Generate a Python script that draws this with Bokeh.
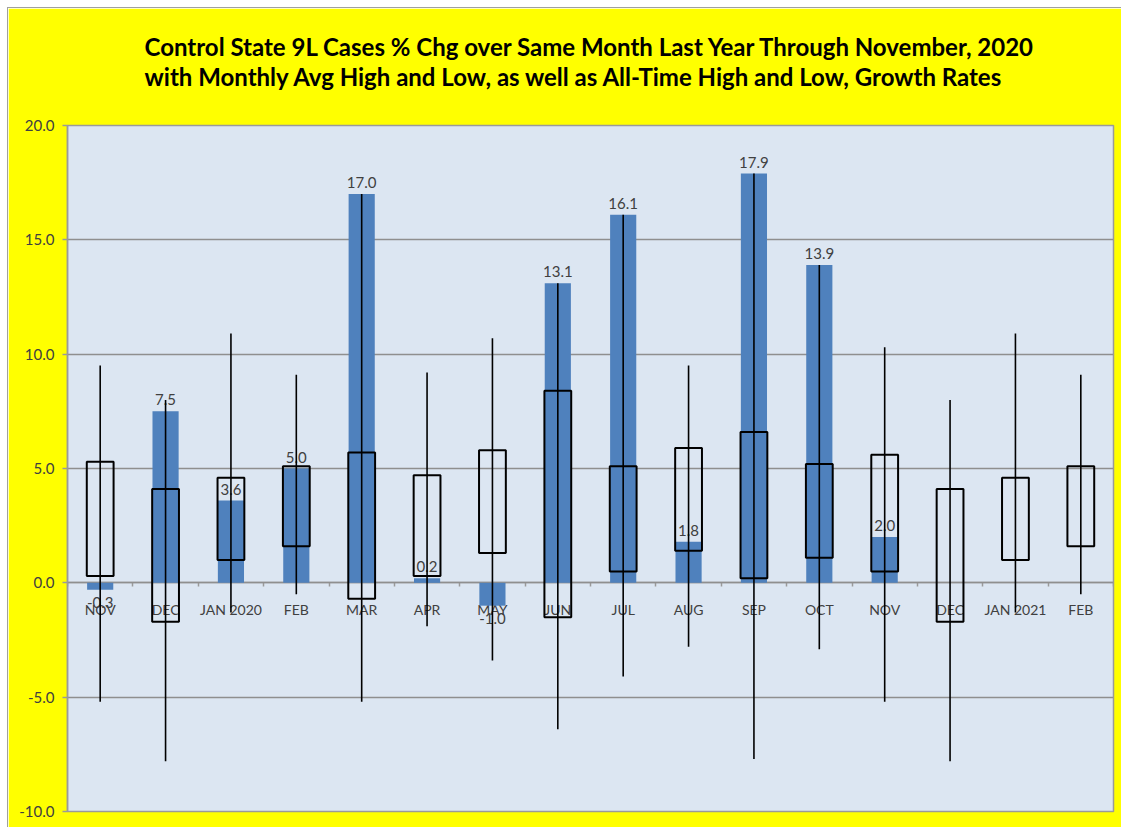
from bokeh.plotting import figure
from bokeh.models import Range1d, FixedTicker, Title, ColumnDataSource, LinearAxis, NumeralTickFormatter
from bokeh.core.properties import value
from bokeh.embed import file_html
from bokeh.resources import INLINE

months = ["NOV", "DEC", "JAN 2020", "FEB", "MAR", "APR", "MAY", "JUN",
          "JUL", "AUG", "SEP", "OCT", "NOV", "DEC", "JAN 2021", "FEB"]
actual = [-0.3, 7.5, 3.6, 5.0, 17.0, 0.2, -1.0, 13.1, 16.1, 1.8, 17.9, 13.9, 2.0]
avg_high = [5.3, 4.1, 4.6, 5.1, 5.7, 4.7, 5.8, 8.4, 5.1, 5.9, 6.6, 5.2, 5.6, 4.1, 4.6, 5.1]
avg_low = [0.3, -1.7, 1.0, 1.6, -0.7, 0.3, 1.3, -1.5, 0.5, 1.4, 0.2, 1.1, 0.5, -1.7, 1.0, 1.6]
all_high = [9.5, 8.0, 10.9, 9.1, 17.0, 9.2, 10.7, 13.1, 16.1, 9.5, 17.9, 13.9, 10.3, 8.0, 10.9, 9.1]
all_low = [-5.2, -7.8, -1.3, -0.5, -5.2, -1.9, -3.4, -6.4, -4.1, -2.8, -7.7, -2.9, -5.2, -7.8, -1.3, -0.5]
y_ticks = [-10, -5, 0, 5, 10, 15, 20]
title_lines = ["Control State 9L Cases % Chg over Same Month Last Year Through November, 2020",
               "with Monthly Avg High and Low, as well as All-Time High and Low,  Growth Rates"]

FONT = "Lato"
YELLOW = "#FFFF00"

idx = list(range(len(months)))
bar_src = ColumnDataSource(dict(x=idx[:len(actual)], top=actual))
pos = dict(x=[], y=[], lab=[])
neg = dict(x=[], y=[], lab=[])
for i, v in enumerate(actual):
    d = pos if v >= 0 else neg
    d["x"].append(i)
    d["y"].append(v)
    d["lab"].append("%.1f" % v)

p = figure(frame_width=1046, frame_height=686,
           min_border_left=59, min_border_right=8, min_border_top=117, min_border_bottom=16,
           x_range=Range1d(-0.5, len(months) - 0.5), y_range=Range1d(-10, 20),
           output_backend="svg", toolbar_location=None,
           x_axis_location=None, y_axis_location=None,
           background_fill_color="#DCE6F2", border_fill_color=YELLOW,
           outline_line_color="#9a9a9a", outline_line_width=1.5)
p.styles = {"margin-left": "8px", "margin-top": "8px", "outline": "1px solid #a0a0a0"}

# spacer between plot area and title, then the two-line title
spacer = Title(text=" ", text_font_size="2px", standoff=12)
p.add_layout(spacer, "above")
t = Title(text="\n".join(title_lines), align="center", text_font=FONT, text_font_size="24px",
          text_font_style="bold", text_color="#000000", standoff=37, text_line_height=1.05)
p.add_layout(t, "above")

# y axis
yax = LinearAxis(ticker=FixedTicker(ticks=y_ticks, minor_ticks=[]))
yax.formatter = NumeralTickFormatter(format="0.0")
yax.major_label_text_font = FONT
yax.major_label_text_font_size = "15px"
yax.major_label_text_color = "#404040"
yax.major_tick_out = 5
yax.major_tick_in = 0
yax.major_tick_line_color = "#9a9a9a"
yax.major_tick_line_width = 1.5
yax.axis_line_color = "#9a9a9a"
yax.axis_line_width = 1.5
yax.major_label_standoff = 8
p.add_layout(yax, "left")

# x axis crossing at zero
xax = LinearAxis(ticker=FixedTicker(ticks=idx, minor_ticks=[i - 0.5 for i in range(len(months) + 1)]),
                 fixed_location=0)
xax.major_label_overrides = {i: m for i, m in enumerate(months)}
xax.major_label_text_font = FONT
xax.major_label_text_font_size = "14px"
xax.major_label_text_color = "#404040"
xax.major_tick_out = 0
xax.major_tick_in = 0
xax.minor_tick_out = 4
xax.minor_tick_in = 0
xax.minor_tick_line_color = "#9a9a9a"
xax.minor_tick_line_width = 1.5
xax.axis_line_color = "#9a9a9a"
xax.axis_line_width = 1.5
xax.major_label_standoff = 14
xax.level = "underlay"
p.add_layout(xax, "below")

p.ygrid.ticker = FixedTicker(ticks=y_ticks)
p.ygrid.grid_line_color = "#8f8f8f"
p.ygrid.grid_line_width = 1.5
p.xgrid.visible = False

# actual bars
p.vbar(x="x", top="top", bottom=0, width=0.4, source=bar_src,
       fill_color="#4F81BD", line_color=None)

# data labels
p.text(x=pos["x"], y=pos["y"], text=pos["lab"], text_align="center", text_baseline="bottom",
       y_offset=-6, text_font=value(FONT), text_font_size="15px", text_color="#404040")
p.text(x=neg["x"], y=neg["y"], text=neg["lab"], text_align="center", text_baseline="top",
       y_offset=7, text_font=value(FONT), text_font_size="15px", text_color="#404040")

# monthly average high / low boxes
p.vbar(x=idx, top=avg_high, bottom=avg_low, width=0.41, fill_color=None,
       line_color="#000000", line_width=2)

# all-time high / low whiskers
p.segment(x0=idx, x1=idx, y0=all_low, y1=all_high, line_color="#000000", line_width=1.6)

open("out.html", "w").write(file_html(p, INLINE))
